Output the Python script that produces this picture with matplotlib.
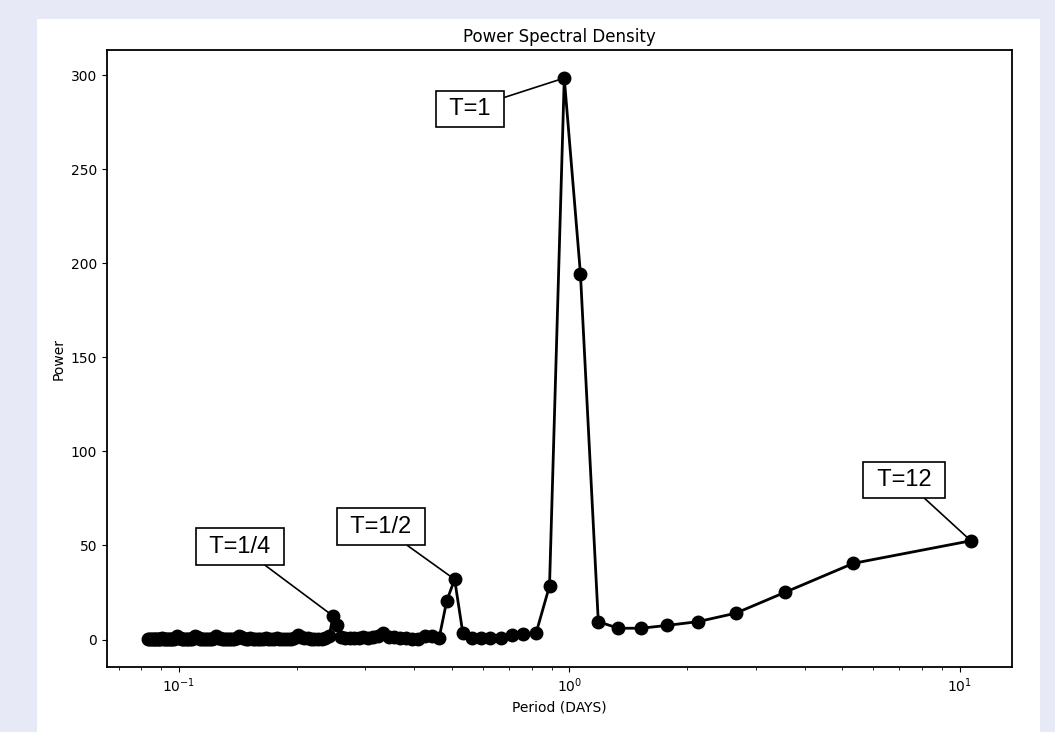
import numpy as np
import matplotlib
matplotlib.use("Agg")
import matplotlib.pyplot as plt
from matplotlib.patches import Rectangle

# hourly samples over the record; FFT harmonics k -> period in days
n_hours = 256
harmonics = np.arange(1, 129)
period_days = n_hours / 24 / harmonics

# power per harmonic k = 1..128
power = [
    52.5, 40.5, 25.0, 14.0, 9.5, 7.5, 6.0, 6.0, 9.5, 194.5,
    298.5, 28.5, 3.2, 2.7, 2.2, 0.8, 0.6, 0.6, 0.9, 3.2,
    32.0, 20.5, 1.0, 1.8, 1.8, 0.5, 0.4, 0.6, 0.9, 1.2,
    1.6, 3.6, 1.8, 1.4, 1.0, 1.1, 0.9, 1.0, 0.8, 1.0,
    1.5, 7.8, 12.5, 2.0, 0.6, 0.4, 0.5, 0.3, 0.5, 0.6,
    0.8, 1.2, 2.2, 1.0, 0.5, 0.4, 0.3, 0.5, 0.4, 0.6,
    0.3, 0.4, 0.5, 0.7, 0.4, 0.3, 0.5, 0.4, 0.3, 0.6,
    0.4, 0.5, 0.7, 1.1, 2.0, 1.0, 0.5, 0.4, 0.3, 0.5,
    0.4, 0.3, 0.5, 0.6, 1.0, 1.8, 0.9, 0.4, 0.3, 0.5,
    0.4, 0.3, 0.4, 0.5, 0.6, 1.1, 2.0, 1.0, 0.5, 0.4,
    0.3, 0.4, 0.5, 0.3, 0.4, 0.6, 1.0, 1.8, 0.9, 0.5,
    0.4, 0.3, 0.5, 0.4, 0.3, 0.4, 0.5, 0.6, 0.4, 0.3,
    0.4, 0.5, 0.3, 0.4, 0.5, 0.3, 0.4, 0.5,
]

# labelled peaks: (text, harmonic k, offset of box centre in points)
peak_labels = ["T=1", "T=1/2", "T=1/4", "T=12"]
peak_k = [11, 21, 43, 1]
label_offsets = [(-68, -22), (-53, 38), (-67, 50), (-48, 44)]

fig = plt.figure(figsize=(10.55, 7.32), dpi=100, facecolor="#e7eaf6")
fig.add_artist(Rectangle((37 / 1055, 0), (1040 - 37) / 1055, (732 - 19) / 732,
                         transform=fig.transFigure, facecolor="white",
                         edgecolor="none", zorder=-5))
ax = fig.add_axes([107 / 1055, 65 / 732, 905 / 1055, 617 / 732])
ax.set_facecolor("white")

ax.plot(period_days, power, "-o", color="black", lw=2, markersize=9)
ax.set_xscale("log")

for text, k, (dx, dy) in zip(peak_labels, peak_k, label_offsets):
    ax.annotate(" " + text + " ", xy=(period_days[k - 1], power[k - 1]),
                xytext=(dx, dy), textcoords="offset points",
                ha="center", va="center", fontsize=17,
                family=["Liberation Sans", "DejaVu Sans"],
                bbox=dict(boxstyle="square,pad=0.3", fc="white", ec="black", lw=1.2),
                arrowprops=dict(arrowstyle="-", color="black", lw=1.2,
                                shrinkA=0, shrinkB=3))

ax.set_title("Power Spectral Density", fontsize=12)
ax.set_xlabel("Period (DAYS)", fontsize=10)
ax.set_ylabel("Power", fontsize=10)
ax.tick_params(labelsize=10)
for s in ax.spines.values():
    s.set_linewidth(1.3)

fig.savefig("out.png", dpi=100, facecolor=fig.get_facecolor())
